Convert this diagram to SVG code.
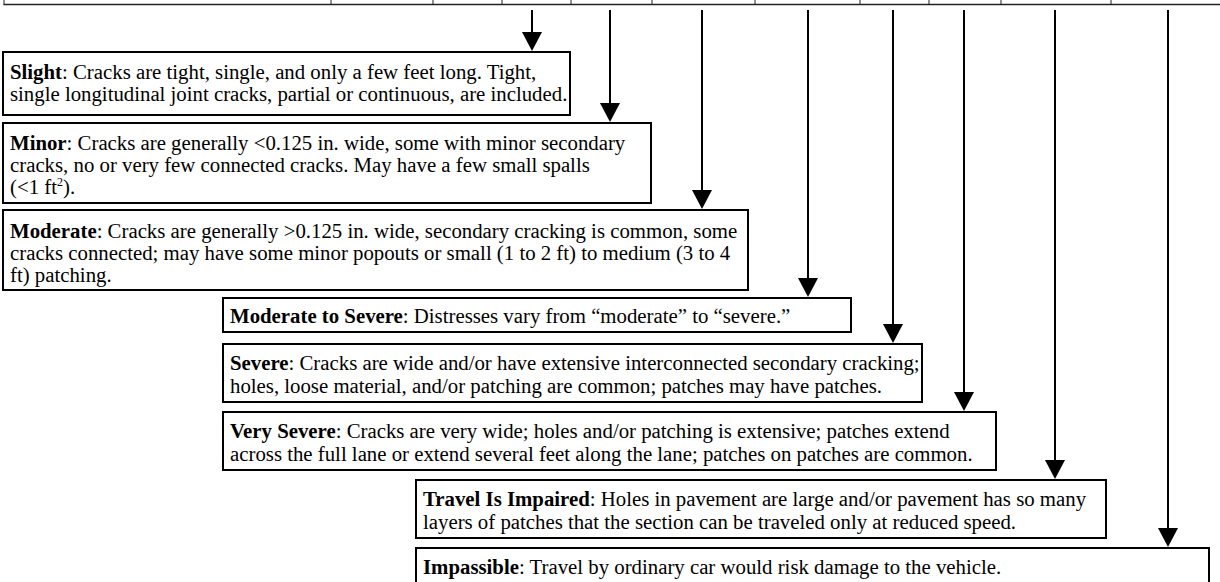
<svg xmlns="http://www.w3.org/2000/svg" width="1220" height="582" viewBox="0 0 1220 582">
<style>
.box{fill:#fff;stroke:#000;stroke-width:2}
.t{font-family:"Liberation Serif","Times New Roman",serif;font-size:20.8px;fill:#000}
.b{font-weight:bold}
.top{stroke:#222;stroke-width:1.5;fill:none}
.div{stroke:#222;stroke-width:1}
.arr{stroke:#000;stroke-width:2;fill:none;marker-end:url(#ah)}
</style>
<defs>
<marker id="ah" markerUnits="userSpaceOnUse" markerWidth="22" markerHeight="22" refX="9" refY="10" orient="auto">
<path d="M0,0 L19,10 L0,20 z" fill="#000"/>
</marker>
</defs>
<rect width="1220" height="582" fill="#fff"/>
<g id="header">
<line class="top" x1="3.5" y1="4.5" x2="1220" y2="4.5"/>
<line class="div" x1="4" y1="0" x2="4" y2="4.5"/>
<line class="div" x1="331" y1="0" x2="331" y2="4.5"/>
<line class="div" x1="433" y1="0" x2="433" y2="4.5"/>
<line class="div" x1="502" y1="0" x2="502" y2="4.5"/>
<line class="div" x1="571" y1="0" x2="571" y2="4.5"/>
<line class="div" x1="652" y1="0" x2="652" y2="4.5"/>
<line class="div" x1="755" y1="0" x2="755" y2="4.5"/>
<line class="div" x1="860" y1="0" x2="860" y2="4.5"/>
<line class="div" x1="929" y1="0" x2="929" y2="4.5"/>
<line class="div" x1="1001" y1="0" x2="1001" y2="4.5"/>
<line class="div" x1="1111" y1="0" x2="1111" y2="4.5"/>
</g>
<g id="connectors">
<line class="arr" x1="532" y1="10" x2="532" y2="41"/>
<line class="arr" x1="610" y1="10" x2="610" y2="112"/>
<line class="arr" x1="702" y1="10" x2="702" y2="199"/>
<line class="arr" x1="808" y1="10" x2="808" y2="287"/>
<line class="arr" x1="893" y1="10" x2="893" y2="333"/>
<line class="arr" x1="964" y1="10" x2="964" y2="401"/>
<line class="arr" x1="1055" y1="10" x2="1055" y2="469"/>
<line class="arr" x1="1168" y1="10" x2="1168" y2="537"/>
</g>
<g id="slight">
<rect class="box" x="3" y="52" width="567" height="63"/>
<text class="t" x="10" y="79"><tspan class="b">Slight</tspan>: Cracks are tight, single, and only a few feet long. Tight,</text>
<text class="t" x="10" y="101">single longitudinal joint cracks, partial or continuous, are included.</text>
</g>
<g id="minor">
<rect class="box" x="3" y="123" width="648" height="80"/>
<text class="t" x="10" y="150"><tspan class="b">Minor</tspan>: Cracks are generally &lt;0.125 in. wide, some with minor secondary</text>
<text class="t" x="10" y="172">cracks, no or very few connected cracks. May have a few small spalls</text>
<text class="t" x="10" y="194">(&lt;1 ft<tspan font-size="12" dy="-8">2</tspan><tspan dy="8">).</tspan></text>
</g>
<g id="moderate">
<rect class="box" x="3" y="210" width="745" height="80"/>
<text class="t" x="10" y="238"><tspan class="b">Moderate</tspan>: Cracks are generally &gt;0.125 in. wide, secondary cracking is common, some</text>
<text class="t" x="10" y="260">cracks connected; may have some minor popouts or small (1 to 2 ft) to medium (3 to 4</text>
<text class="t" x="10" y="282">ft) patching.</text>
</g>
<g id="moderate-to-severe">
<rect class="box" x="223" y="298" width="628" height="34"/>
<text class="t" x="230" y="323"><tspan class="b">Moderate to Severe</tspan>: Distresses vary from “moderate” to “severe.”</text>
</g>
<g id="severe">
<rect class="box" x="223" y="344" width="699" height="58"/>
<text class="t" x="230" y="370"><tspan class="b">Severe</tspan>: Cracks are wide and/or have extensive interconnected secondary cracking;</text>
<text class="t" x="230" y="393">holes, loose material, and/or patching are common; patches may have patches.</text>
</g>
<g id="very-severe">
<rect class="box" x="223" y="412" width="773" height="58"/>
<text class="t" x="230" y="438"><tspan class="b">Very Severe</tspan>: Cracks are very wide; holes and/or patching is extensive; patches extend</text>
<text class="t" x="230" y="461">across the full lane or extend several feet along the lane; patches on patches are common.</text>
</g>
<g id="travel-impaired">
<rect class="box" x="416" y="480" width="690" height="58"/>
<text class="t" x="423" y="506"><tspan class="b">Travel Is Impaired</tspan>: Holes in pavement are large and/or pavement has so many</text>
<text class="t" x="423" y="529">layers of patches that the section can be traveled only at reduced speed.</text>
</g>
<g id="impassible">
<rect class="box" x="416" y="548" width="793" height="40"/>
<text class="t" x="423" y="574"><tspan class="b">Impassible</tspan>: Travel by ordinary car would risk damage to the vehicle.</text>
</g>
</svg>
